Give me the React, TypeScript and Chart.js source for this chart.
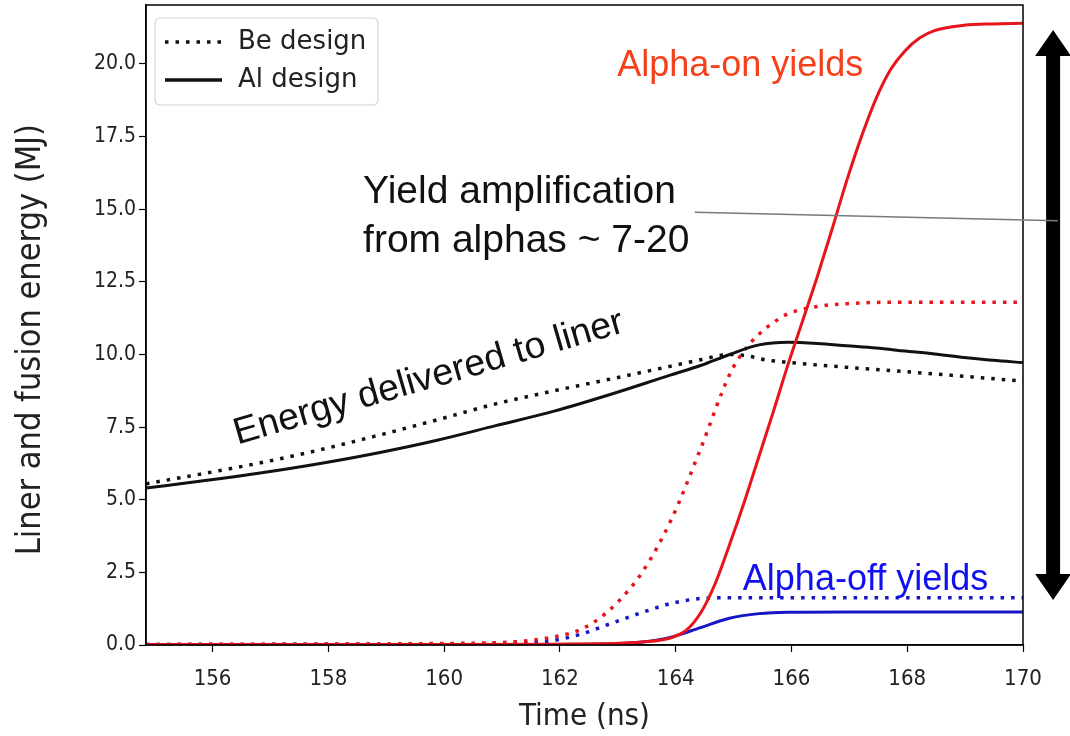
import React, { useEffect, useRef } from "react";
import { Chart, registerables } from "chart.js";

Chart.register(...registerables);

// Time axis ticks (ns) and energy axis ticks (MJ)
const xTickValues = [156, 158, 160, 162, 164, 166, 168, 170];
const yTickValues = [0, 2.5, 5, 7.5, 10, 12.5, 15, 17.5, 20];

// Energy delivered to the liner, Al design (solid)
const tAlLiner = [154.85, 155.84, 156.85, 157.86, 158.87, 159.88, 160.89, 161.9, 162.91, 163.92, 164.43, 164.93, 165.44, 165.94, 166.45, 166.95, 167.46, 167.96, 168.47, 168.98, 169.48, 170];
const eAlLiner = [5.4, 5.65, 5.93, 6.25, 6.62, 7.05, 7.55, 8.05, 8.65, 9.3, 9.62, 10.0, 10.33, 10.42, 10.38, 10.3, 10.22, 10.12, 10.02, 9.9, 9.8, 9.72];

// Energy delivered to the liner, Be design (dotted)
const tBeLiner = [154.85, 155.84, 156.85, 157.86, 158.87, 159.88, 160.89, 161.9, 162.91, 163.92, 164.43, 164.93, 165.24, 165.54, 165.94, 166.95, 167.96, 168.98, 170];
const eBeLiner = [5.55, 5.9, 6.28, 6.72, 7.22, 7.75, 8.3, 8.75, 9.17, 9.6, 9.82, 10.0, 9.95, 9.82, 9.73, 9.56, 9.41, 9.25, 9.08];

// Alpha-on fusion yield, Al design (solid red)
const tAlOn = [154.85, 159.88, 161.9, 162.91, 163.42, 163.92, 164.18, 164.43, 164.68, 164.93, 165.19, 165.44, 165.69, 165.94, 166.2, 166.45, 166.7, 166.95, 167.21, 167.46, 167.71, 167.96, 168.22, 168.47, 168.98, 169.48, 170];
const yAlOn = [0.02, 0.02, 0.03, 0.05, 0.1, 0.25, 0.5, 1.1, 2.1, 3.45, 4.95, 6.5, 8.05, 9.65, 11.2, 12.7, 14.3, 15.95, 17.5, 18.8, 19.8, 20.45, 20.9, 21.15, 21.33, 21.38, 21.4];

// Alpha-on fusion yield, Be design (dotted red)
const tBeOn = [154.85, 157.86, 159.88, 160.89, 161.4, 161.9, 162.41, 162.91, 163.42, 163.92, 164.43, 164.93, 165.19, 165.44, 165.69, 165.94, 166.45, 166.95, 167.96, 170];
const yBeOn = [0.02, 0.03, 0.05, 0.08, 0.14, 0.28, 0.58, 1.3, 2.5, 4.3, 6.75, 9.3, 10.15, 10.7, 11.1, 11.4, 11.65, 11.75, 11.8, 11.8];

// Alpha-off fusion yield, Be design (dotted blue)
const tBeOff = [154.85, 159.88, 160.89, 161.4, 161.9, 162.41, 162.91, 163.42, 163.92, 164.43, 164.93, 165.94, 170];
const yBeOff = [0.02, 0.03, 0.05, 0.08, 0.16, 0.4, 0.76, 1.12, 1.43, 1.6, 1.63, 1.63, 1.63];

// Alpha-off fusion yield, Al design (solid blue)
const tAlOff = [154.85, 161.9, 162.91, 163.42, 163.92, 164.43, 164.93, 165.44, 165.94, 166.95, 170];
const yAlOff = [0.02, 0.02, 0.04, 0.1, 0.27, 0.6, 0.92, 1.08, 1.13, 1.14, 1.14];

const legendLabels = ["Be design", "Al design"];

const BLACK = "#111111";
const RED = "#e8141c";
const BLUE = "#1616c8";
const DOT = [3.5, 7];

const pts = (t: number[], v: number[]) => t.map((x, i) => ({ x, y: v[i] }));

const SANS = '"Liberation Sans", Arial, sans-serif';
const AXIS_FAMILY = '"DejaVu Sans Condensed", "DejaVu Sans", sans-serif';
const LEGEND_FONT = '26px "DejaVu Sans", sans-serif';

// Free-floating labels, anchored in data units (left end of baseline)
const notes = [
  { text: "Alpha-on yields", x: 162.99, y: 19.59, color: "#f5401c", angle: 0, size: 36 },
  { text: "Yield amplification", x: 158.6, y: 15.22, color: "#111", angle: 0, size: 39 },
  { text: "from alphas ~ 7-20", x: 158.6, y: 13.53, color: "#111", angle: 0, size: 39 },
  { text: "Alpha-off yields", x: 165.16, y: 1.89, color: "#1010f0", angle: 0, size: 36 },
  { text: "Energy delivered to liner", x: 156.43, y: 6.9, color: "#111", angle: -16.2, size: 37.5 },
];

// Drop the half-label overhang Chart.js reserves around each axis
const noOverhang = (s: any) => {
  s.paddingTop = 0;
  s.paddingBottom = 0;
  s.paddingLeft = 0;
  s.paddingRight = 0;
};

const overlayPlugin = {
  id: "overlay",
  afterDraw(chart: any) {
    const { ctx, chartArea, scales } = chart;
    const sx = scales.x;
    const sy = scales.y;
    const X = (v: number) => sx.getPixelForValue(v);
    const Y = (v: number) => sy.getPixelForValue(v);
    ctx.save();

    // axes frame
    ctx.strokeStyle = "#000";
    ctx.lineWidth = 1.5;
    ctx.strokeRect(chartArea.left, chartArea.top, chartArea.right - chartArea.left, chartArea.bottom - chartArea.top);

    // legend box
    const lx = chartArea.left + 9;
    const ly = chartArea.top + 13;
    const lw = 223;
    const lh = 87;
    ctx.beginPath();
    ctx.roundRect(lx, ly, lw, lh, 5);
    ctx.fillStyle = "rgba(255,255,255,0.85)";
    ctx.fill();
    ctx.strokeStyle = "#d4d4d4";
    ctx.lineWidth = 1.2;
    ctx.stroke();
    ctx.font = LEGEND_FONT;
    ctx.textBaseline = "middle";
    ctx.fillStyle = "#222";
    legendLabels.forEach((label, i) => {
      const ry = ly + 24 + i * 38;
      ctx.beginPath();
      ctx.strokeStyle = BLACK;
      ctx.lineWidth = 3.5;
      ctx.setLineDash(i === 0 ? DOT : []);
      ctx.moveTo(lx + 10, ry);
      ctx.lineTo(lx + 67, ry);
      ctx.stroke();
      ctx.setLineDash([]);
      ctx.fillText(label, lx + 83, ry);
    });

    // text labels
    ctx.textBaseline = "alphabetic";
    ctx.textAlign = "left";
    notes.forEach((n) => {
      ctx.save();
      ctx.font = `${n.size}px ${SANS}`;
      ctx.translate(X(n.x), Y(n.y));
      ctx.rotate((n.angle * Math.PI) / 180);
      ctx.fillStyle = n.color;
      ctx.fillText(n.text, 0, 0);
      ctx.restore();
    });

    // double-headed arrow spanning alpha-off to alpha-on yield
    const ax = X(170.52);
    const top = Y(21.17);
    const bot = Y(1.55);
    const shaft = 7;
    const head = 18;
    const headLen = 26;
    ctx.fillStyle = "#000";
    ctx.beginPath();
    ctx.moveTo(ax, top);
    ctx.lineTo(ax + head, top + headLen);
    ctx.lineTo(ax + shaft, top + headLen);
    ctx.lineTo(ax + shaft, bot - headLen);
    ctx.lineTo(ax + head, bot - headLen);
    ctx.lineTo(ax, bot);
    ctx.lineTo(ax - head, bot - headLen);
    ctx.lineTo(ax - shaft, bot - headLen);
    ctx.lineTo(ax - shaft, top + headLen);
    ctx.lineTo(ax - head, top + headLen);
    ctx.closePath();
    ctx.fill();

    // leader line from the amplification label to the arrow
    ctx.beginPath();
    ctx.strokeStyle = "#7a7a7a";
    ctx.lineWidth = 1.5;
    ctx.moveTo(X(164.33), Y(14.9));
    ctx.lineTo(X(170.6), Y(14.6));
    ctx.stroke();

    ctx.restore();
  },
};

export default function App() {
  const canvasRef = useRef<HTMLCanvasElement | null>(null);

  useEffect(() => {
    document.body.style.margin = "0";
    const canvas = canvasRef.current;
    if (!canvas) return;

    const line = (label: string, data: any[], color: string, dotted: boolean, order: number) => ({
      label,
      data,
      borderColor: color,
      backgroundColor: color,
      borderWidth: dotted ? 3.5 : 3,
      borderDash: dotted ? DOT : [],
      borderCapStyle: "butt",
      pointRadius: 0,
      fill: false,
      cubicInterpolationMode: "monotone",
      order,
    });

    const chart = new Chart(canvas, {
      type: "line",
      data: {
        datasets: [
          line("Al alpha-on", pts(tAlOn, yAlOn), RED, false, 0),
          line("Al alpha-off", pts(tAlOff, yAlOff), BLUE, false, 1),
          line("Al liner", pts(tAlLiner, eAlLiner), BLACK, false, 2),
          line("Be alpha-on", pts(tBeOn, yBeOn), RED, true, 3),
          line("Be alpha-off", pts(tBeOff, yBeOff), BLUE, true, 4),
          line("Be liner", pts(tBeLiner, eBeLiner), BLACK, true, 5),
        ] as any,
      },
      options: {
        responsive: false,
        animation: false,
        devicePixelRatio: 1,
        layout: { autoPadding: false, padding: { left: 0, right: 47, top: 5, bottom: 0 } },
        plugins: { legend: { display: false }, tooltip: { enabled: false } },
        scales: {
          x: {
            type: "linear",
            min: 154.85,
            max: 170,
            afterBuildTicks: (s: any) => {
              s.ticks = xTickValues.map((value) => ({ value }));
            },
            afterFit: (s: any) => {
              s.height = 91;
              noOverhang(s);
            },
            border: { display: true, color: "#000", width: 1.5 },
            grid: { drawOnChartArea: false, drawTicks: true, tickLength: 7, color: "#000", tickWidth: 1.2 },
            ticks: {
              color: "#222",
              padding: 14,
              maxRotation: 0,
              font: { family: AXIS_FAMILY, size: 22 },
            },
            title: {
              display: true,
              text: "Time (ns)",
              color: "#222",
              padding: { top: 4, bottom: 0 },
              font: { family: AXIS_FAMILY, size: 31 },
            },
          },
          y: {
            type: "linear",
            min: 0,
            max: 22.03,
            afterBuildTicks: (s: any) => {
              s.ticks = yTickValues.map((value) => ({ value }));
            },
            afterFit: (s: any) => {
              s.width = 146;
              noOverhang(s);
            },
            border: { display: true, color: "#000", width: 1.5 },
            grid: { drawOnChartArea: false, drawTicks: true, tickLength: 7, color: "#000", tickWidth: 1.2 },
            ticks: {
              color: "#222",
              padding: 3,
              font: { family: AXIS_FAMILY, size: 21 },
              callback: (v: any) => Number(v).toFixed(1),
            },
            title: {
              display: true,
              text: "Liner and fusion energy (MJ)\u00a0\u00a0\u00a0",
              color: "#222",
              padding: { top: 11, bottom: 0 },
              font: { family: AXIS_FAMILY, size: 34 },
            },
          },
        },
      },
      plugins: [overlayPlugin],
    });

    return () => chart.destroy();
  }, []);

  return (
    <div style={{ position: "absolute", left: 0, top: 0, width: 1070, height: 736, background: "#fff" }}>
      <canvas ref={canvasRef} width={1070} height={736} />
    </div>
  );
}
